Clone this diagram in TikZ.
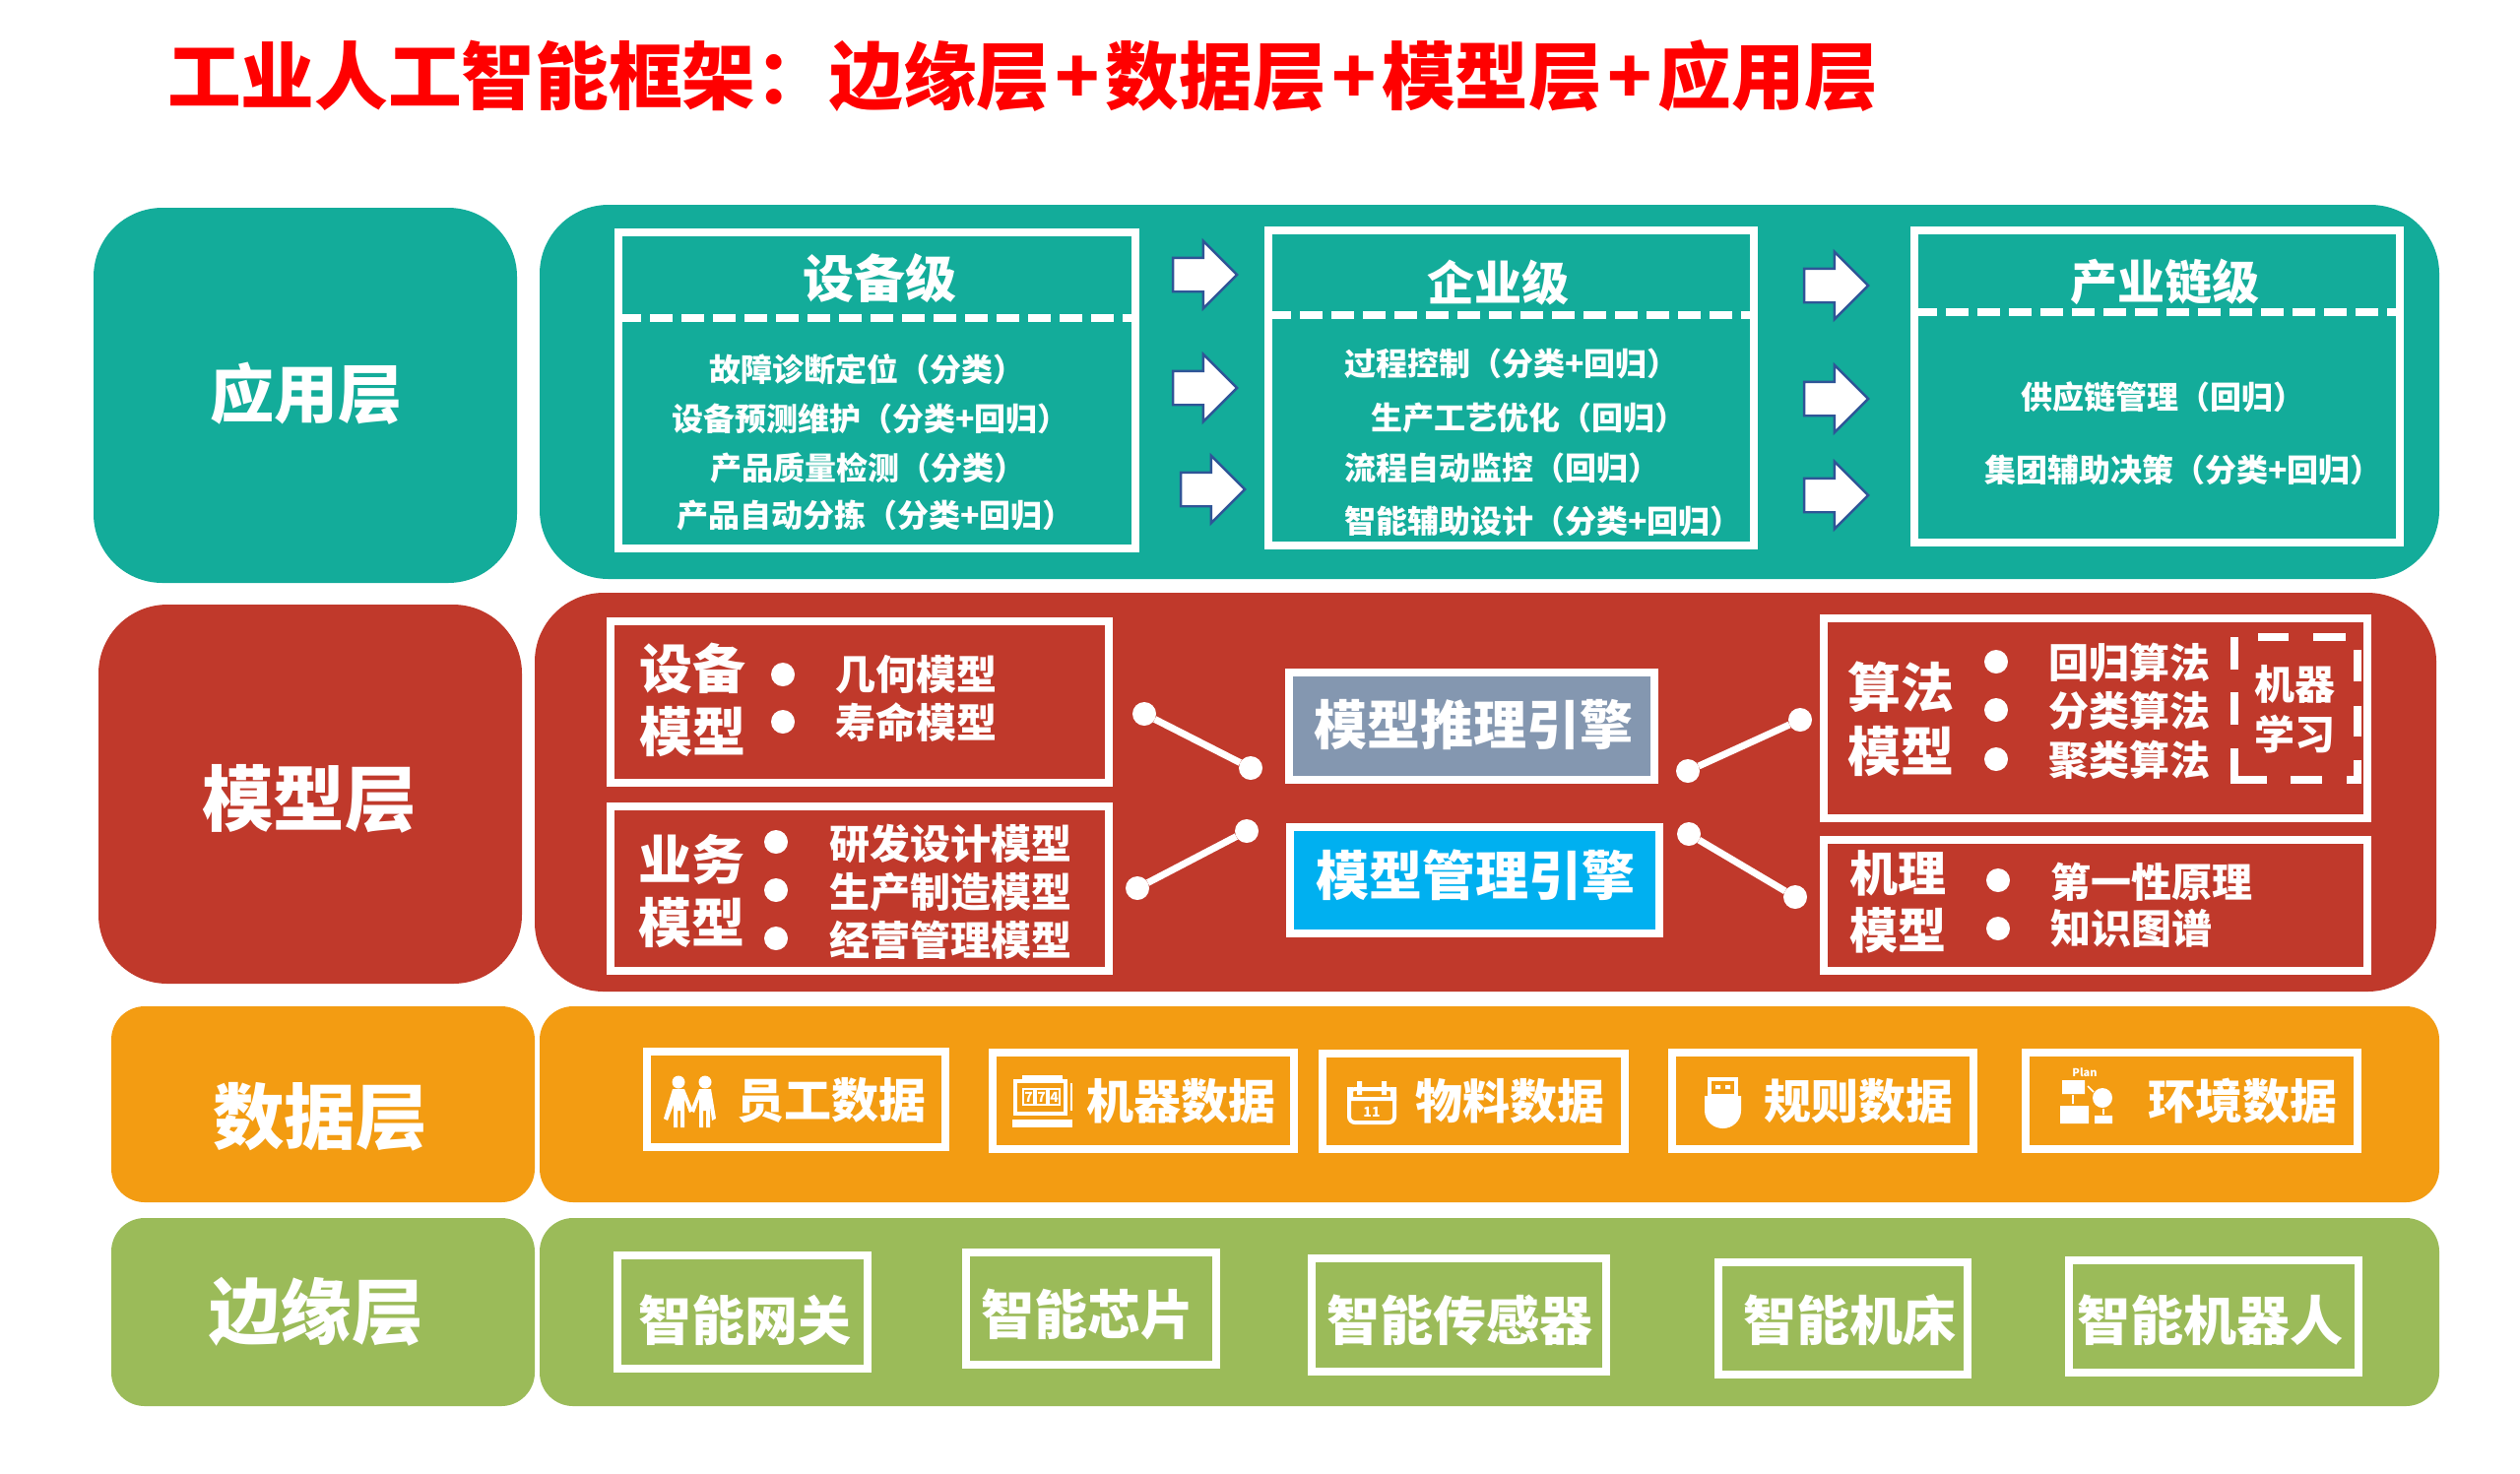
\documentclass[tikz,border=0pt]{standalone}
\usepackage{fontspec}
\setmainfont{Noto Sans CJK SC}[BoldFont=Noto Sans CJK SC Black]
\usetikzlibrary{shapes.arrows}
\definecolor{tealc}{HTML}{13AC9A}
\definecolor{redc}{HTML}{C0392B}
\definecolor{orangec}{HTML}{F39C12}
\definecolor{greenc}{HTML}{9BBB59}
\definecolor{slatec}{HTML}{8497B0}
\definecolor{skyc}{HTML}{00B0F0}
\definecolor{arrowc}{HTML}{2F5597}
\tikzset{
  panel/.style={fill=#1,draw=none,inner sep=0pt,outer sep=0pt,rounded corners=35pt},
  panelsm/.style={fill=#1,draw=none,inner sep=0pt,outer sep=0pt,rounded corners=17pt},
  frame/.style={draw=white,line width=4pt,inner sep=0pt,outer sep=0pt},
  framefill/.style={draw=white,line width=4pt,inner sep=0pt,outer sep=0pt,fill=#1},
  txt/.style={text=white,inner sep=0pt,outer sep=0pt,font=\bfseries\fontsize{#1}{#1}\selectfont},
  divider/.style={draw=white,line width=4pt,dash pattern=on 11.5pt off 4.5pt},
  dotn/.style={circle,fill=white,draw=none,minimum size=12pt,inner sep=0pt,outer sep=0pt},
  link/.style={draw=white,line width=3.5pt},
  flow/.style={single arrow,draw=arrowc,fill=white,line width=1.2pt,inner xsep=0pt,inner ysep=8pt,outer sep=0pt,
    minimum height=32.5pt,single arrow head extend=8.5pt,single arrow head indent=0pt},
  ico/.style={fill=white,draw=none},
  icol/.style={draw=white,line width=2pt,fill=none},
}
\newcommand{\boxat}[7]{\pgfmathsetmacro\bcx{(#3+#5)/2}\pgfmathsetmacro\bcy{(#4+#6)/2}%
  \pgfmathsetmacro\bw{(#5-#3)*0.5}\pgfmathsetmacro\bh{(#6-#4)*0.5}%
  \node[#1,minimum width=\bw pt,minimum height=\bh pt] (#2) at (\bcx,\bcy) {#7};}
\newcommand{\frameat}[7]{\pgfmathsetmacro\bcx{(#3+#5)/2}\pgfmathsetmacro\bcy{(#4+#6)/2}%
  \pgfmathsetmacro\bw{(#5-#3-8)*0.5}\pgfmathsetmacro\bh{(#6-#4-8)*0.5}%
  \node[#1,minimum width=\bw pt,minimum height=\bh pt] (#2) at (\bcx,\bcy) {#7};}
\newcommand{\tc}[5]{\node[txt=#1] (#2) at (#3,#4) {\rule{0pt}{.88em}\rule[-.12em]{0pt}{.12em}#5};}
\newcommand{\tl}[5]{\node[txt=#1,anchor=west] (#2) at (#3,#4) {\rule{0pt}{.88em}\rule[-.12em]{0pt}{.12em}#5};}
\newcommand{\plusgap}{\hspace{2.7pt}+\hspace{2.7pt}}
\begin{document}
\begin{tikzpicture}[x=0.5pt,y=-0.5pt]
\useasboundingbox (0,0) rectangle (2559,1496);
\fill[white] (0,0) rectangle (2559,1496);
% title
\node[txt=37.35,text=red,anchor=west] (title) at (170,77) {\rule{0pt}{.88em}\rule[-.12em]{0pt}{.12em}工业人工智能框架：边缘层\plusgap 数据层\plusgap 模型层\plusgap 应用层};
% panels
\boxat{panel=tealc}{pa1}{95}{211}{525}{592}{}
\boxat{panel=tealc}{pa2}{548}{208}{2477}{588}{}
\boxat{panel=redc}{pm1}{100}{614}{530}{999}{}
\boxat{panel=redc}{pm2}{543}{602}{2474}{1007}{}
\boxat{panelsm=orangec}{pd1}{113}{1022}{543}{1221}{}
\boxat{panelsm=orangec}{pd2}{548}{1022}{2477}{1221}{}
\boxat{panelsm=greenc}{pe1}{113}{1237}{543}{1428}{}
\boxat{panelsm=greenc}{pe2}{548}{1237}{2477}{1428}{}
\tc{32.5}{lyA}{311}{400}{应用层}
\tc{36.3}{lyM}{314}{811}{模型层}
\tc{36.3}{lyD}{325}{1134}{数据层}
\tc{36.3}{lyE}{321}{1332}{边缘层}
% application layer
\frameat{frame}{fa1}{624}{232}{1157}{561}{}
\frameat{frame}{fa2}{1284}{230}{1785}{558}{}
\frameat{frame}{fa3}{1940}{230}{2441}{555}{}
\draw[divider] (fa1.west |- 0,323) -- (fa1.east |- 0,323);
\draw[divider] (fa2.west |- 0,320) -- (fa2.east |- 0,320);
\draw[divider] (fa3.west |- 0,317) -- (fa3.east |- 0,317);
\tc{26}{ta1}{893}{283}{设备级}
\tc{24}{ta2}{1521}{287}{企业级}
\tc{24}{ta3}{2198}{286}{产业链级}
\tc{16}{a11}{880}{375}{故障诊断定位（分类）}
\tc{16}{a12}{884}{425}{设备预测维护（分类+回归）}
\tc{16}{a13}{881}{475}{产品质量检测（分类）}
\tc{16}{a14}{889}{523}{产品自动分拣（分类+回归）}
\tc{16}{a21}{1535}{369}{过程控制（分类+回归）}
\tc{16}{a22}{1552}{424}{生产工艺优化（回归）}
\tc{16}{a23}{1525}{475}{流程自动监控（回归）}
\tc{16}{a24}{1567}{529}{智能辅助设计（分类+回归）}
\tc{16}{a31}{2196}{403}{供应链管理（回归）}
\tc{16}{a32}{2217}{477}{集团辅助决策（分类+回归）}
\node[flow] (ar1) at (1215,279) {};
\node[flow] (ar2) at (1215,394) {};
\node[flow] (ar3) at (1223,497) {};
\node[flow] (ar4) at (1856,290) {};
\node[flow] (ar5) at (1856,405) {};
\node[flow] (ar6) at (1856,503) {};
% model layer
\frameat{frame}{fm1}{616}{627}{1130}{799}{}
\frameat{frame}{fm2}{616}{815}{1130}{990}{}
\frameat{framefill=slatec}{fe1}{1305}{679}{1684}{796}{}
\frameat{framefill=skyc}{fe2}{1306}{836}{1689}{952}{}
\frameat{frame}{fm3}{1848}{624}{2408}{835}{}
\frameat{frame}{fm4}{1848}{849}{2408}{990}{}
\tc{27}{e1}{1496}{736}{模型推理引擎}
\tc{27}{e2}{1498}{889}{模型管理引擎}
\tc{27}{m11}{703}{679}{设备}
\tc{27}{m12}{703}{743}{模型}
\tc{27}{m21}{702}{873}{业务}
\tc{27}{m22}{702}{937}{模型}
\tc{27}{m31}{1930}{698}{算法}
\tc{27}{m32}{1930}{763}{模型}
\tc{24.5}{m41}{1927}{887}{机理}
\tc{24.5}{m42}{1927}{945}{模型}
\node[dotn] (b11) at (795,685) {};
\node[dotn] (b12) at (795,733) {};
\tl{20.5}{i11}{848}{685}{几何模型}
\tl{20.5}{i12}{848}{734}{寿命模型}
\node[dotn] (b21) at (788,855) {};
\node[dotn] (b22) at (788,904) {};
\node[dotn] (b23) at (788,953) {};
\tl{20.5}{i21}{842}{857}{研发设计模型}
\tl{20.5}{i22}{842}{906}{生产制造模型}
\tl{20.5}{i23}{842}{955}{经营管理模型}
\node[dotn] (b31) at (2027,672) {};
\node[dotn] (b32) at (2027,721) {};
\node[dotn] (b33) at (2027,771) {};
\tl{20.5}{i31}{2080}{673}{回归算法}
\tl{20.5}{i32}{2080}{722}{分类算法}
\tl{20.5}{i33}{2080}{772}{聚类算法}
\node[dotn] (b41) at (2029,894) {};
\node[dotn] (b42) at (2029,943) {};
\tl{20.5}{i41}{2082}{896}{第一性原理}
\tl{20.5}{i42}{2082}{943}{知识图谱}
\tc{20.5}{ml1}{2330}{695}{机器}
\tc{20.5}{ml2}{2330}{746}{学习}
\draw[white,line width=4pt]
  (2269,647)--(2269,680) (2269,703)--(2269,736) (2269,760)--(2269,792)--(2302,792)
  (2326,792)--(2358,792) (2383,792)--(2394,792)--(2394,772) (2394,748)--(2394,717)
  (2394,692)--(2394,660) (2382,647)--(2349,647) (2324,647)--(2293,647);
% connectors of the model layer
\node[dotn] (c1a) at (1162,725) {};
\node[dotn] (c1b) at (1270,780) {};
\node[dotn] (c2a) at (1266,844) {};
\node[dotn] (c2b) at (1155,902) {};
\node[dotn] (c3a) at (1714,783) {};
\node[dotn] (c3b) at (1828,731) {};
\node[dotn] (c4a) at (1715,847) {};
\node[dotn] (c4b) at (1823,911) {};
\draw[link] (c1a) -- (c1b);
\draw[link] (c2a) -- (c2b);
\draw[link] (c3a) -- (c3b);
\draw[link] (c4a) -- (c4b);
% data layer
\frameat{frame}{fd1}{653}{1064}{964}{1169}{}
\frameat{frame}{fd2}{1004}{1065}{1318}{1171}{}
\frameat{frame}{fd3}{1339}{1066}{1654}{1171}{}
\frameat{frame}{fd4}{1694}{1065}{2008}{1171}{}
\frameat{frame}{fd5}{2053}{1065}{2398}{1171}{}
\tc{24}{d1}{844}{1117}{员工数据}
\tc{24}{d2}{1199}{1118}{机器数据}
\tc{24}{d3}{1533}{1118}{物料数据}
\tc{24}{d4}{1887}{1118}{规则数据}
\tc{24}{d5}{2277}{1118}{环境数据}
% icon: people
\fill[ico] (689,1099) circle[radius=6.5] (716,1099) circle[radius=6.5];
\fill[ico] (683,1106)--(695,1106)--(704,1128)--(700,1130)--(695,1116)--(695,1145)--(691,1145)--(691,1128)--(688,1128)--(688,1145)--(684,1145)--(684,1122)--(678,1138)--(674,1136)--cycle;
\fill[ico] (710,1106)--(722,1106)--(727,1136)--(723,1138)--(721,1122)--(721,1145)--(717,1145)--(717,1128)--(714,1128)--(714,1145)--(710,1145)--(710,1116)--(705,1130)--(701,1128)--cycle;
% icon: slot machine
\fill[ico] (1038,1092) rectangle (1079,1098);
\draw[icol] (1031,1098) rectangle (1082,1131);
\fill[ico] (1028,1137) rectangle (1089,1145);
\draw[white,line width=1pt] (1088,1100) -- (1088,1128);
\draw[white,line width=.7pt] (1039,1106) rectangle (1050,1122) (1052,1106) rectangle (1063,1122) (1065,1106) rectangle (1076,1122);
\node[txt=7] (s1) at (1044.5,1114) {7};
\node[txt=7] (s2) at (1057.5,1114) {7};
\node[txt=7] (s3) at (1070.5,1114) {4};
% icon: calendar
\draw[icol,rounded corners=3pt] (1370,1106) rectangle (1416,1140);
\fill[ico] (1368,1104) rectangle (1374,1118) (1412,1104) rectangle (1418,1118) (1368,1114) rectangle (1418,1118);
\fill[ico] (1378,1098) rectangle (1383,1112) (1403,1098) rectangle (1408,1112);
\node[txt=7] (cal) at (1393,1129) {11};
% icon: usb
\draw[icol] (1736,1096) rectangle (1763,1113);
\fill[ico] (1742,1102) rectangle (1747,1106) (1752,1102) rectangle (1757,1106);
\fill[ico] (1731,1113) -- (1768,1113) -- (1768,1128) arc[start angle=0,end angle=180,x radius=18.5,y radius=18] -- cycle;
% icon: plan
\node[txt=5.5] (plan) at (2117,1089) {Plan};
\fill[ico] (2094,1097) rectangle (2117,1111) (2092,1123) rectangle (2121,1141) (2127,1133) rectangle (2145,1141);
\fill[ico] (2135,1115) circle[radius=10];
\draw[white,line width=.8pt] (2105,1112)--(2105,1121) (2120,1103)--(2126,1109) (2136,1126)--(2136,1132);
% edge layer
\frameat{frame}{fg1}{623}{1271}{885}{1394}{}
\frameat{frame}{fg2}{977}{1268}{1239}{1390}{}
\frameat{frame}{fg3}{1328}{1274}{1635}{1397}{}
\frameat{frame}{fg4}{1741}{1278}{2002}{1400}{}
\frameat{frame}{fg5}{2097}{1276}{2399}{1398}{}
\tc{27}{g1}{756}{1341}{智能网关}
\tc{27}{g2}{1104}{1335}{智能芯片}
\tc{27}{g3}{1482}{1341}{智能传感器}
\tc{27}{g4}{1878}{1341}{智能机床}
\tc{27}{g5}{2244}{1341}{智能机器人}
\end{tikzpicture}
\end{document}
